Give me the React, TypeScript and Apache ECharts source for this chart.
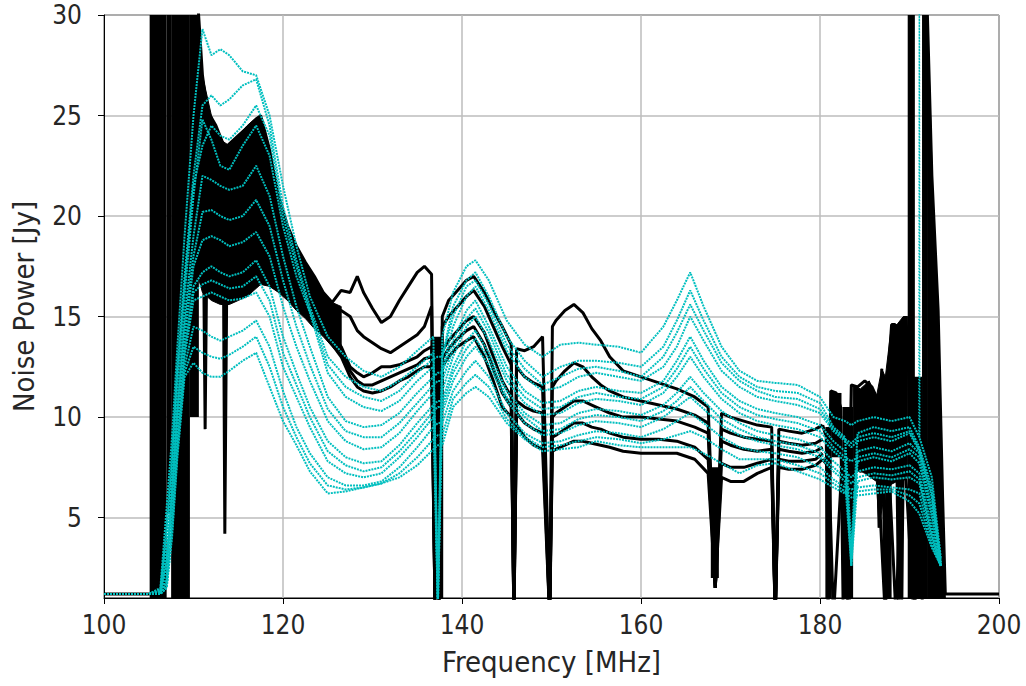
import React, { useEffect, useRef } from "react";
import * as echarts from "echarts";

// ---------- axis ticks ----------
const yTicks = [5, 10, 15, 20, 25, 30];

// ---------- black: flat floor on the left ----------
const floorFreq = [100, 105.1];
const floorPower = [1.2, 1.2];

// ---------- black: solid RFI columns (start MHz, end MHz, low Jy, high Jy) ----------
const colStart = [105.1, 107.0, 107.5, 109.6, 136.8, 167.8, 180.6, 181.3, 182.5, 187.3, 188.6, 189.8, 190.4, 191.4];
const colEnd = [107.0, 107.5, 109.6, 110.6, 137.9, 168.7, 181.3, 182.4, 183.7, 188.0, 189.3, 190.6, 191.4, 192.0];
const colLow = [1, 5.2, 1, 10, 1, 2, 1, 8, 1, 1, 1, 1, 1, 1];
const colHigh = [30, 30, 30, 30, 14, 7.5, 9.5, 11.2, 10.5, 12, 14.6, 30, 12, 30];

// ---------- black: dense band 110-127 MHz ----------
const bandFreq = [110.5, 111, 112, 113, 114, 115, 116, 117, 117.5, 118.5, 119.5, 120.5, 121.5, 122.5, 123.5, 124.5, 125.5, 126.5];
const bandTop = [30.5, 27, 25, 23.8, 23.5, 24, 24.5, 24.9, 25, 23.3, 21, 19.5, 18.5, 17.7, 17, 16.2, 15.7, 15.5];
const bandBottom = [17, 16.2, 15.8, 15.6, 15.6, 15.8, 16, 16.4, 16.6, 16.5, 16.2, 15.8, 15.3, 14.9, 14.4, 14, 13.5, 13];

// ---------- black: mass and slope on the right ----------
const massFreq = [183.7, 184.5, 185.5, 186.3, 186.9, 187.3, 188.0, 188.6, 189.3, 189.8, 189.8, 188.6, 187.3, 186.6, 186.3, 185.0, 183.7];
const massPower = [11.6, 11.4, 11.8, 11.0, 12.4, 12.0, 14.6, 14.6, 15.0, 15.0, 7.0, 6.8, 6.5, 4.5, 6.8, 7.2, 7.5];
const slopeFreq = [192.0, 192.3, 192.6, 193.2, 193.6, 194.0, 192.0];
const slopePower = [30, 25.8, 21, 15.3, 8, 1, 1];

// ---------- black: main lines ----------
const blackFreq = [110.5, 111, 111.3, 111.6, 112.5, 113.3, 113.5, 113.8, 115, 116.5, 117.5, 118.5, 119.5, 120.5, 121.5, 122.5, 123.5, 124.5, 125.5, 126.5, 127.5, 128.3, 129, 130, 131, 132, 133, 134, 135, 135.8, 136.6, 137.0, 137.4, 137.8, 138.5, 139.5, 140.5, 141.3, 142.5, 143.5, 144.5, 145.5, 145.8, 146.1, 147, 148, 149, 149.8, 150.1, 150.5, 151.5, 152.5, 153.5, 154.5, 155.5, 156.5, 158, 160, 162, 164, 166, 167.5, 168.3, 169, 170, 171.5, 173, 174.6, 175, 175.4, 176.5, 178, 179.5, 180.3];
const black1 = [30.5, 27, 26, 25.2, 24.5, 23.6, 23.5, 23.5, 24, 24.6, 25, 23.3, 21, 19.5, 18.5, 17.7, 17, 16.2, 15.7, 16.3, 16.2, 17, 16.2, 15.4, 14.7, 15, 15.8, 16.5, 17.2, 17.5, 17.1, 0, 0, 15, 15.8, 16.3, 16.8, 17, 16.2, 15.3, 14.5, 13.6, 0, 13.4, 13.3, 13.5, 14, 0, 14.5, 14.8, 15.3, 15.6, 15.2, 14.4, 13.8, 13, 12.3, 12, 11.7, 11.4, 11, 10.5, 1.5, 10.2, 10, 9.8, 9.6, 9.5, 0, 9.4, 9.3, 9.2, 9.4, 9.6];
const black2 = [29, 24.5, 9.4, 23.5, 22.5, 21.5, 4.2, 21.5, 22, 23, 23.8, 22.5, 20.5, 19, 18, 17.2, 16.5, 15.8, 15.2, 15.3, 15, 14.3, 14, 13.7, 13.4, 13.2, 13.5, 13.8, 14.1, 14.5, 15.5, 0, 0, 14.5, 15, 15.5, 16, 16.3, 15.5, 14.5, 13.5, 12.6, 0, 12.5, 12, 11.7, 11.5, 0, 11.5, 11.8, 12.3, 12.7, 12.5, 12, 11.6, 11.3, 11, 10.8, 10.6, 10.4, 10.1, 9.7, 1.5, 9.4, 9.2, 9, 8.9, 8.8, 0, 8.8, 8.7, 8.6, 8.7, 8.9];
const black3 = [27, 22, 21, 21, 21, 20.5, 20.5, 20.3, 20.8, 21.5, 22, 21, 19.2, 18, 17, 16.3, 15.5, 14.8, 14.2, 13.5, 12.5, 12.2, 12, 12.2, 12.5, 12.5, 12.6, 12.8, 13, 13.3, 13.5, 0, 0, 13.3, 13.8, 14.3, 14.8, 15, 14.2, 13, 11.8, 11, 0, 10.8, 10.5, 10.3, 10.2, 0, 10, 10.2, 10.5, 10.8, 10.8, 10.6, 10.4, 10.2, 10, 10, 9.9, 9.8, 9.5, 9.2, 1.5, 8.8, 8.6, 8.4, 8.3, 8.4, 0, 8.4, 8.3, 8.2, 8.3, 8.5];
const black4 = [25, 20, 19.5, 19.5, 19, 18.7, 18.7, 18.5, 18.5, 19, 19.5, 19, 18, 17, 16.2, 15.5, 14.8, 14.2, 13.6, 13, 12, 11.5, 11.3, 11.2, 11.3, 11.5, 11.8, 12, 12.3, 12.5, 12.5, 0, 0, 12.5, 13, 13.5, 13.8, 14, 13, 11.8, 10.5, 10, 0, 9.6, 9, 8.6, 8.4, 0, 8.3, 8.4, 8.6, 8.8, 8.8, 8.7, 8.6, 8.5, 8.3, 8.2, 8.2, 8.2, 7.9, 7.2, 1.5, 7, 6.8, 6.8, 7.2, 7.5, 0, 7.5, 7.4, 7.4, 7.6, 7.9];
const black5 = [26, 21, 20.5, 20.3, 20, 19.7, 19.7, 19.5, 19.6, 20.2, 20.7, 20, 18.6, 17.5, 16.6, 15.9, 15.2, 14.5, 13.9, 13.2, 12.3, 11.8, 11.6, 11.6, 11.8, 12, 12.2, 12.4, 12.6, 12.9, 13, 0, 0, 12.9, 13.4, 13.9, 14.3, 14.5, 13.6, 12.4, 11.2, 10.5, 0, 10.2, 9.7, 9.4, 9.2, 0, 9, 9.1, 9.4, 9.7, 9.7, 9.5, 9.4, 9.2, 9, 8.9, 8.9, 8.8, 8.5, 7.9, 1.5, 7.7, 7.5, 7.5, 7.7, 7.9, 0, 7.9, 7.8, 7.8, 7.9, 8.2];

// ---------- black: right-hand RFI lines ----------
const rightFreq = [180.3, 180.7, 180.9, 181.2, 181.8, 182.3, 182.6, 183.0, 183.5, 184.2, 185, 185.8, 186.3, 186.6, 186.9, 187.3, 187.6, 188, 188.4, 188.8, 189.1, 189.5, 189.8, 190.6, 191.4, 192.0, 192.5, 193.2, 193.7, 194.0, 200];
const rightPower = [9.6, 9, 0, 11.3, 11.2, 10.5, 0, 0, 11.6, 11.5, 11.8, 11.5, 11, 4.5, 12.4, 0, 12, 14.6, 14.6, 0, 0, 15, 14, 0, 0, 30, 22, 15.3, 6, 1.2, 1.2];
const rightLowFreq = [180.3, 181, 181.5, 182.5, 183.2, 183.8, 184.5, 185.5, 186.5, 187.3, 187.8, 188.5, 189, 189.6, 190.5, 191.5, 192.5, 193.2, 193.8];
const rightLowPower = [7.9, 7.5, 0, 8, 0, 7.5, 7.3, 7.5, 7.2, 0, 6.5, 0, 6.8, 7, 0, 6, 10, 8, 1.2];

// ---------- cyan lines ----------
const cyanFreq = [100, 105, 106.3, 107, 107.6, 108.2, 109, 110, 111, 112, 113, 114, 115.5, 117, 118.5, 120, 121.5, 123, 125, 127, 129, 131, 133, 135, 136.8, 137.3, 137.8, 139, 140.5, 141.5, 143, 145, 147, 149, 151, 153, 155, 157.5, 160, 162.5, 164, 165.5, 167, 169, 171, 173, 175, 177.5, 180, 181.5, 182.8, 183.5, 184.2, 186, 188, 190, 191.1, 192.5, 193.5];
const cyan1 = [1.2, 1.2, 1.5, 5.5, 9, 13.5, 19, 25, 29.3, 28, 28.3, 28, 27.2, 27, 25, 21.5, 18.5, 16, 14, 13, 12.3, 12, 12.5, 13.3, 14, 1, 14, 16.2, 17.5, 17.8, 16.8, 14.8, 13.6, 13, 13.6, 13.7, 13.6, 13.5, 13.2, 14.5, 15.8, 17.2, 15.5, 13.5, 12.3, 11.8, 11.7, 11.6, 11, 10, 9.8, 9.6, 9.8, 10, 9.8, 10, 9, 7, 3];
const cyan2 = [1.2, 1.2, 1.4, 4.5, 8, 12.5, 17, 22, 25.5, 26, 25.5, 25.8, 26.5, 26.8, 24.5, 20.5, 17.8, 15.5, 13, 12, 11.5, 11.3, 11.8, 12.5, 13.2, 1, 13, 15.5, 16.8, 17.2, 16, 14, 12.8, 12, 12.5, 12.8, 12.8, 12.7, 12.5, 13.5, 14.8, 16.3, 14.8, 13, 12, 11.5, 11.3, 11.2, 10.7, 9.5, 9, 3.5, 9.2, 9.5, 9.3, 9.5, 8.5, 6.5, 2.8];
const cyan3 = [1.2, 1.2, 1.3, 3.5, 7, 11.5, 16, 21, 24.8, 23.8, 22.5, 22.3, 23.5, 24.5, 23, 19.5, 17, 15.2, 12.2, 11, 10.5, 10.3, 10.8, 11.8, 12.5, 0.5, 12.3, 14.5, 16, 16.5, 15.3, 13.3, 12, 11.3, 11.5, 12, 12.2, 12, 11.8, 12.5, 13.5, 15, 13.8, 12.3, 11.5, 11, 10.8, 10.6, 10.2, 9.3, 8.8, 8.5, 8.8, 9, 8.8, 9.2, 8.3, 6, 2.6];
const cyan4 = [1.2, 1.2, 1.3, 3, 6.5, 10.5, 15, 19, 22, 21.8, 21.5, 21.3, 21.5, 22.5, 21, 18, 15.5, 13.5, 11, 9.8, 9.5, 9.6, 10.2, 11.2, 12, 12.2, 12.2, 13.8, 15.3, 15.8, 14.5, 12.5, 11.3, 10.7, 10.8, 11.3, 11.5, 11.3, 11.2, 11.8, 12.8, 14, 12.8, 11.5, 10.8, 10.4, 10.2, 10, 9.6, 8.8, 8.3, 3, 8.3, 8.5, 8.3, 8.7, 8.2, 5.5, 2.6];
const cyan5 = [1.2, 1.2, 1.2, 2.5, 6, 10, 14, 17.5, 18.8, 19, 18.8, 18.5, 18.7, 19.2, 18, 15.5, 13.5, 11.8, 9.8, 8.8, 8.4, 8.5, 9.2, 10.3, 11.2, 0.5, 11.3, 13, 14.5, 15, 13.8, 11.8, 10.7, 10.1, 10.2, 10.7, 10.9, 10.8, 10.6, 11.2, 12, 13, 12, 10.9, 10.2, 9.8, 9.6, 9.4, 9, 8.3, 7.8, 2.6, 7.8, 8, 7.8, 8.2, 7.7, 5, 2.6];
const cyan6 = [1.2, 1.2, 1.2, 2, 5.5, 9.5, 13.5, 16.5, 17.2, 17.5, 17.2, 17, 17.2, 17.8, 16.5, 14, 12.2, 10.5, 8.8, 8, 7.7, 7.8, 8.6, 9.7, 10.6, 10.8, 10.8, 12.5, 13.8, 14.3, 13.2, 11.3, 10.2, 9.6, 9.7, 10.2, 10.4, 10.3, 10.1, 10.6, 11.2, 12, 11.2, 10.3, 9.7, 9.3, 9.1, 8.9, 8.5, 7.8, 7.3, 7, 7.3, 7.5, 7.4, 7.6, 7.2, 4.5, 2.6];
const cyan7 = [1.2, 1.2, 1.2, 1.8, 5, 9, 13, 15.8, 16, 16.2, 16, 15.8, 15.9, 16.2, 15, 12.5, 11, 9.5, 7.8, 7.2, 7, 7.2, 8, 9, 10, 0.5, 10.2, 11.8, 13, 13.5, 12.6, 10.8, 9.7, 9.1, 9.2, 9.6, 9.8, 9.7, 9.5, 10, 10.5, 11, 10.4, 9.6, 9.1, 8.8, 8.6, 8.4, 8, 7.3, 6.8, 2.6, 6.8, 7, 6.9, 7, 6.7, 4, 2.6];
const cyan8 = [1.2, 1.2, 1.2, 1.6, 4.5, 8.5, 12.5, 14.5, 14.3, 14, 13.8, 14, 14.3, 14.8, 13.5, 11.3, 9.5, 8.2, 7, 6.6, 6.6, 6.8, 7.5, 8.5, 9.5, 9.7, 9.7, 11.3, 12.3, 12.8, 12, 10.2, 9.2, 8.7, 8.8, 9.1, 9.3, 9.2, 9, 9.4, 9.8, 10.2, 9.7, 9, 8.5, 8.3, 8.2, 8, 7.5, 6.9, 6.5, 6.4, 6.5, 6.6, 6.5, 6.4, 6.2, 3.8, 2.6];
const cyan9 = [1.2, 1.2, 1.2, 1.5, 4, 8, 12, 12.7, 12.2, 12, 12, 12.3, 12.8, 13.2, 11.5, 9.8, 8.6, 7.3, 6.2, 6.3, 6.5, 6.7, 7, 7.6, 8.4, 8.6, 8.6, 10.5, 11.2, 11.5, 11, 9.7, 8.9, 8.3, 8.4, 8.5, 8.8, 8.6, 8.5, 8.5, 8.5, 8.5, 8.2, 7.7, 7.2, 7.6, 7.7, 7.3, 6.9, 6.5, 6.2, 6, 6.1, 6.2, 6.3, 5.8, 5.2, 3.5, 2.6];
const cyan10 = [1.2, 1.2, 1.3, 4, 7.5, 12, 16.5, 21.5, 23.5, 24.5, 24, 23.8, 24.5, 25.5, 24, 20, 17.5, 15.3, 12.6, 11.5, 11, 10.8, 11.3, 12.2, 12.9, 13, 13, 15, 16.5, 16.8, 15.6, 13.6, 12.4, 11.6, 12, 12.4, 12.5, 12.3, 12, 13, 14.2, 15.6, 14.3, 12.7, 11.8, 11.3, 11, 10.9, 10.4, 9.4, 8.9, 8.7, 9, 9.2, 9, 9.3, 8.4, 6.2, 2.7];
const cyan11 = [1.2, 1.2, 1.2, 2.8, 6.2, 10.2, 14.5, 18, 20.2, 20.3, 20, 19.8, 20, 20.8, 19.5, 16.8, 14.5, 12.6, 10.4, 9.3, 9, 9, 9.7, 10.7, 11.6, 11.8, 11.8, 13.4, 14.9, 15.4, 14.2, 12.1, 11, 10.4, 10.5, 11, 11.2, 11, 10.9, 11.5, 12.4, 13.5, 12.4, 11.2, 10.5, 10.1, 9.9, 9.7, 9.3, 8.5, 8, 7.8, 8, 8.2, 8, 8.4, 8, 5.2, 2.6];
const cyan12 = [1.2, 1.2, 1.2, 1.9, 5.2, 9.2, 13.2, 16.2, 16.6, 16.8, 16.6, 16.4, 16.5, 17, 15.8, 13.2, 11.6, 10, 8.3, 7.6, 7.3, 7.5, 8.3, 9.3, 10.3, 10.5, 10.5, 12.2, 13.4, 13.9, 12.9, 11, 10, 9.3, 9.4, 9.9, 10.1, 10, 9.8, 10.3, 10.8, 11.5, 10.8, 9.9, 9.4, 9, 8.8, 8.6, 8.2, 7.5, 7, 6.7, 7, 7.2, 7.1, 7.3, 6.9, 4.2, 2.6];
const cyan13 = [1.2, 1.2, 1.2, 1.5, 4.2, 8.2, 12.2, 13.5, 13.2, 13, 12.9, 13.1, 13.5, 14, 12.5, 10.5, 9, 7.7, 6.6, 6.4, 6.5, 6.7, 7.2, 8, 8.9, 9.1, 9.1, 10.9, 11.7, 12.1, 11.5, 9.9, 9, 8.5, 8.6, 8.8, 9, 8.9, 8.7, 8.9, 9.1, 9.3, 9, 8.4, 7.9, 7.9, 7.9, 7.6, 7.2, 6.7, 6.3, 6.2, 6.3, 6.4, 6.4, 6.1, 5.7, 3.6, 2.6];
const cyanSpikeFreq = [191.05, 191.1, 191.15];
const cyanSpikePower = [9, 30.5, 9];

const FONT = "DejaVu Sans Condensed, DejaVu Sans";
const TEXT = "#262626";
const BLACK = "#000000";
const CYAN = "#00bfbf";

const pairs = (xs: number[], ys: number[]) => xs.map((x, i) => [x, ys[i]]);

function blackLine(name: string, xs: number[], ys: number[]) {
  return {
    name,
    type: "line",
    data: pairs(xs, ys),
    symbol: "none",
    lineStyle: { color: BLACK, width: 3 },
    clip: true,
  };
}

function cyanLine(name: string, xs: number[], ys: number[]) {
  return {
    name,
    type: "line",
    data: pairs(xs, ys),
    symbol: "none",
    lineStyle: { color: CYAN, width: 2, type: [2, 1] },
    clip: true,
  };
}

function blackPolygon(name: string, xs: number[], ys: number[]) {
  return {
    name,
    type: "custom",
    clip: true,
    data: pairs(xs, ys),
    renderItem: (params: any, api: any) => {
      if (params.dataIndex !== 0) return null;
      const points = xs.map((x, i) => api.coord([x, ys[i]]));
      return { type: "polygon", shape: { points }, style: { fill: BLACK, stroke: BLACK, lineWidth: 1 } };
    },
  };
}

function blackColumns(name: string) {
  return {
    name,
    type: "custom",
    clip: true,
    data: colStart.map((s, i) => [s, colEnd[i], colLow[i], colHigh[i]]),
    encode: { x: [0, 1], y: [2, 3] },
    renderItem: (params: any, api: any) => {
      const p0 = api.coord([api.value(0), api.value(3)]);
      const p1 = api.coord([api.value(1), api.value(2)]);
      return {
        type: "rect",
        shape: { x: p0[0], y: p0[1], width: p1[0] - p0[0], height: p1[1] - p0[1] },
        style: { fill: BLACK },
      };
    },
  };
}

export default function App() {
  const ref = useRef<HTMLDivElement>(null);
  useEffect(() => {
    if (!ref.current) return;
    const chart = echarts.init(ref.current, null, { renderer: "svg" });
    const bandXs = [...bandFreq, ...bandFreq.slice().reverse()];
    const bandYs = [...bandTop, ...bandBottom.slice().reverse()];
    const option = {
      animation: false,
      backgroundColor: "#ffffff",
      grid: {
        left: 104,
        right: 27,
        top: 15,
        bottom: 88,
        show: true,
        borderColor: "#000",
        borderWidth: 1,
        backgroundColor: "transparent",
      },
      xAxis: {
        type: "value",
        min: 100,
        max: 200,
        interval: 20,
        name: "Frequency [MHz]",
        nameLocation: "middle",
        nameGap: 49,
        nameTextStyle: { fontFamily: FONT, fontSize: 29, color: TEXT },
        axisLine: { show: true, onZero: false, lineStyle: { color: "#000", width: 1 } },
        axisTick: { show: true, length: 6, lineStyle: { color: "#000" } },
        axisLabel: { fontFamily: FONT, fontSize: 26, color: TEXT, margin: 14 },
        splitLine: { show: true, lineStyle: { color: "#bdbdbd", width: 1.5 } },
      },
      yAxis: {
        type: "value",
        min: 1,
        max: 30,
        name: "Noise Power [Jy]",
        nameLocation: "middle",
        nameGap: 66,
        nameTextStyle: { fontFamily: FONT, fontSize: 29, color: TEXT },
        axisLine: { show: true, onZero: false, lineStyle: { color: "#000", width: 1 } },
        axisTick: { show: true, length: 6, customValues: yTicks, lineStyle: { color: "#000" } },
        axisLabel: { fontFamily: FONT, fontSize: 26, color: TEXT, margin: 22, customValues: yTicks },
        splitLine: { show: true, lineStyle: { color: "#bdbdbd", width: 1.5 } },
      },
      series: [
        blackColumns("rfiColumns"),
        blackPolygon("band", bandXs, bandYs),
        blackPolygon("rightMass", massFreq, massPower),
        blackPolygon("rightSlope", slopeFreq, slopePower),
        blackLine("floor", floorFreq, floorPower),
        blackLine("black1", blackFreq, black1),
        blackLine("black2", blackFreq, black2),
        blackLine("black3", blackFreq, black3),
        blackLine("black4", blackFreq, black4),
        blackLine("black5", blackFreq, black5),
        blackLine("rfiRight", rightFreq, rightPower),
        blackLine("rfiRightLow", rightLowFreq, rightLowPower),
        cyanLine("cyan1", cyanFreq, cyan1),
        cyanLine("cyan2", cyanFreq, cyan2),
        cyanLine("cyan10", cyanFreq, cyan10),
        cyanLine("cyan3", cyanFreq, cyan3),
        cyanLine("cyan4", cyanFreq, cyan4),
        cyanLine("cyan11", cyanFreq, cyan11),
        cyanLine("cyan5", cyanFreq, cyan5),
        cyanLine("cyan6", cyanFreq, cyan6),
        cyanLine("cyan12", cyanFreq, cyan12),
        cyanLine("cyan7", cyanFreq, cyan7),
        cyanLine("cyan8", cyanFreq, cyan8),
        cyanLine("cyan13", cyanFreq, cyan13),
        cyanLine("cyan9", cyanFreq, cyan9),
        {
          name: "cyanSpike",
          type: "line",
          data: pairs(cyanSpikeFreq, cyanSpikePower),
          symbol: "none",
          lineStyle: { color: CYAN, width: 1.5, type: "dotted" },
        },
      ],
    };
    chart.setOption(option as any);
    return () => chart.dispose();
  }, []);
  return <div ref={ref} style={{ width: 1026, height: 686, position: "absolute", left: 0, top: 0 }} />;
}
